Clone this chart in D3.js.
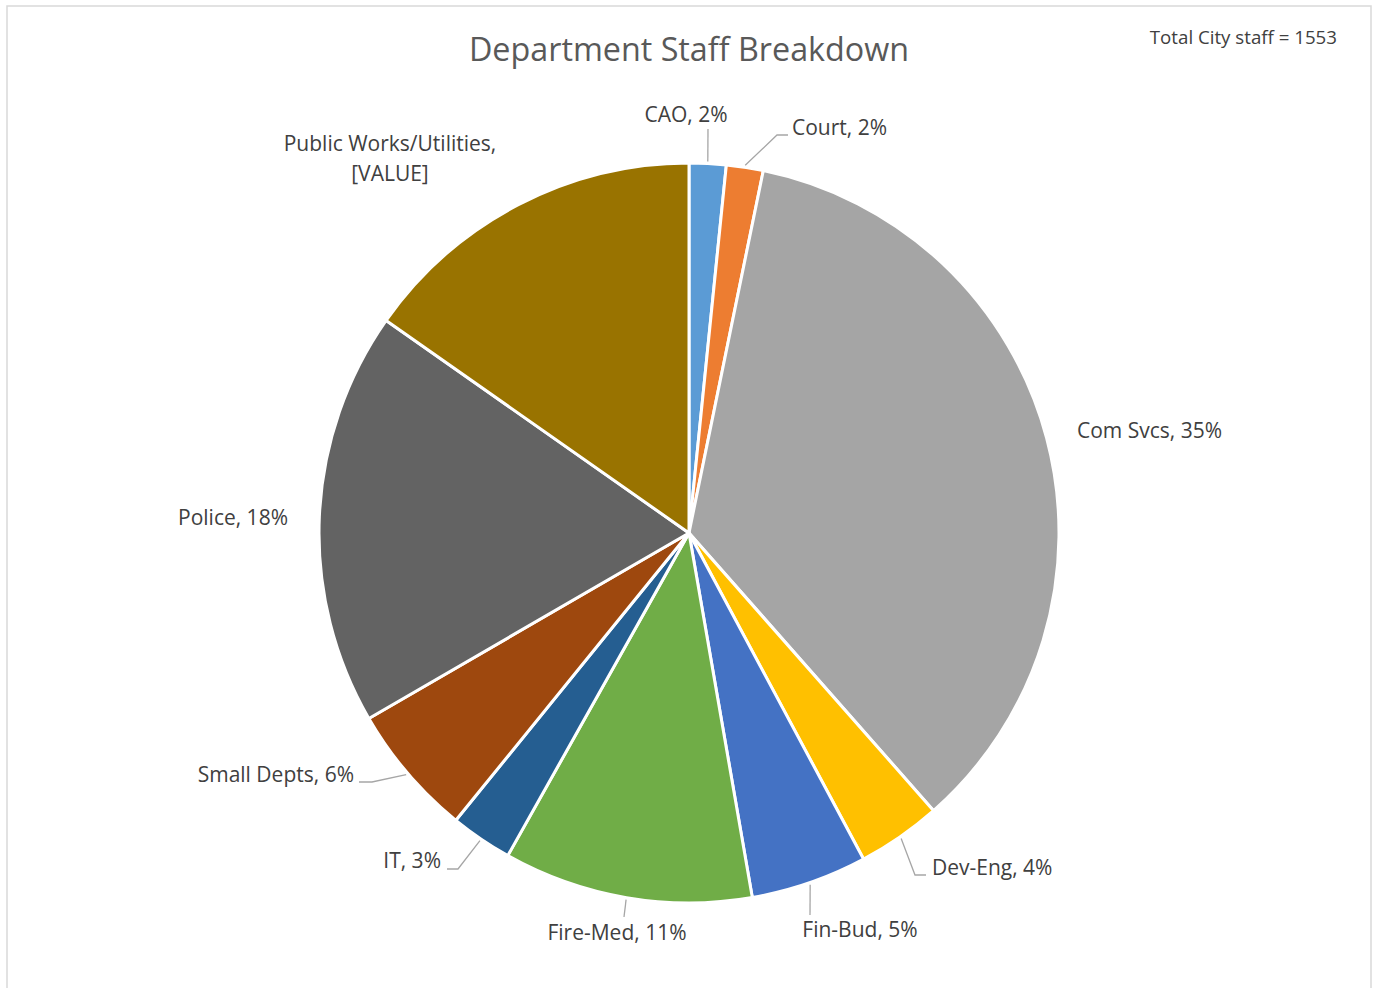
<!DOCTYPE html>
<html>
<head>
<meta charset="utf-8">
<script src="https://cdn.jsdelivr.net/npm/d3@7"></script>
<style>
  html, body { margin: 0; padding: 0; background: #ffffff; }
  svg { display: block; }
  text { font-family: "Open Sans", "Noto Sans", sans-serif; }
</style>
</head>
<body>
<svg id="chart" width="1377" height="988"></svg>
<script>
// Staff headcount per department
const departments = ["CAO", "Court", "Com Svcs", "Dev-Eng", "Fin-Bud", "Fire-Med", "IT", "Small Depts", "Police", "Public Works/Utilities"];
const staffCounts = [25, 25, 548, 57, 79, 169, 42, 90, 281, 237];
const chartTitle = "Department Staff Breakdown";
const totalLabel = "Total City staff = ";

// Slice fills, in department order
const sliceColors = ["#5B9BD5", "#ED7D31", "#A5A5A5", "#FFC000", "#4472C4", "#70AD47", "#255E91", "#9E480E", "#636363", "#997300"];

// Label placement: text anchor point, alignment, and leader path (elbow/end points)
const labelLayout = [
  { x: 686,  y: 122, anchor: "middle", leader: [[708, 129]] },
  { x: 792,  y: 135, anchor: "start",  leader: [[777, 135], [788, 135]] },
  { x: 1077, y: 438, anchor: "start",  leader: null },
  { x: 932,  y: 875, anchor: "start",  leader: [[915, 875], [926, 875]] },
  { x: 860,  y: 937, anchor: "middle", leader: [[810, 915]] },
  { x: 617,  y: 940, anchor: "middle", leader: [[624, 917]] },
  { x: 441,  y: 868, anchor: "end",    leader: [[458, 869], [447, 869]] },
  { x: 354,  y: 782, anchor: "end",    leader: [[372, 782], [359, 782]] },
  { x: 288,  y: 525, anchor: "end",    leader: null },
  { x: 390,  y: 151, anchor: "middle", leader: null, lines: ["Public Works/Utilities,", "[VALUE]"] }
];

const cx = 689, cy = 533, R = 370;

const svg = d3.select("#chart");

// outer frame of the chart area
svg.append("rect")
  .attr("x", 7).attr("y", 6)
  .attr("width", 1364).attr("height", 1000)
  .attr("fill", "#ffffff")
  .attr("stroke", "#D9D9D9")
  .attr("stroke-width", 1.5);

// title
svg.append("text")
  .attr("x", 689).attr("y", 61)
  .attr("text-anchor", "middle")
  .attr("font-size", 32.3)
  .attr("fill", "#595959")
  .text(chartTitle);

const total = d3.sum(staffCounts);
svg.append("text")
  .attr("x", 1337).attr("y", 44)
  .attr("text-anchor", "end")
  .attr("font-size", 18.7)
  .attr("fill", "#404040")
  .text(totalLabel + total);

const color = d3.scaleOrdinal().domain(departments).range(sliceColors);

const pie = d3.pie().sort(null).value(d => d.value);
const arcs = pie(departments.map((name, i) => ({ name, value: staffCounts[i], i })));

const arc = d3.arc().innerRadius(0).outerRadius(R);
const leaderArc = d3.arc().innerRadius(R + 2).outerRadius(R + 2);

const g = svg.append("g").attr("transform", `translate(${cx},${cy})`);

g.selectAll("path.slice")
  .data(arcs)
  .enter().append("path")
  .attr("class", "slice")
  .attr("d", arc)
  .attr("fill", d => color(d.data.name))
  .attr("stroke", "#ffffff")
  .attr("stroke-width", 3)
  .attr("stroke-linejoin", "round");

const pct = d3.format(".0%");

// leader lines from slice edge to label
const line = d3.line();
arcs.forEach((d, i) => {
  const L = labelLayout[i];
  if (!L.leader) return;
  const [sx, sy] = leaderArc.centroid(d);
  const pts = [[cx + sx, cy + sy]].concat(L.leader);
  svg.append("path")
    .attr("d", line(pts))
    .attr("fill", "none")
    .attr("stroke", "#A6A6A6")
    .attr("stroke-width", 1.3);
});

// data labels
arcs.forEach((d, i) => {
  const L = labelLayout[i];
  const lines = L.lines || [`${d.data.name}, ${pct(d.data.value / total)}`];
  const t = svg.append("text")
    .attr("x", L.x).attr("y", L.y)
    .attr("text-anchor", L.anchor)
    .attr("font-size", 21)
    .attr("fill", "#404040");
  lines.forEach((s, k) => {
    t.append("tspan")
      .attr("x", L.x)
      .attr("dy", k === 0 ? 0 : 30)
      .text(s);
  });
});
</script>
</body>
</html>
